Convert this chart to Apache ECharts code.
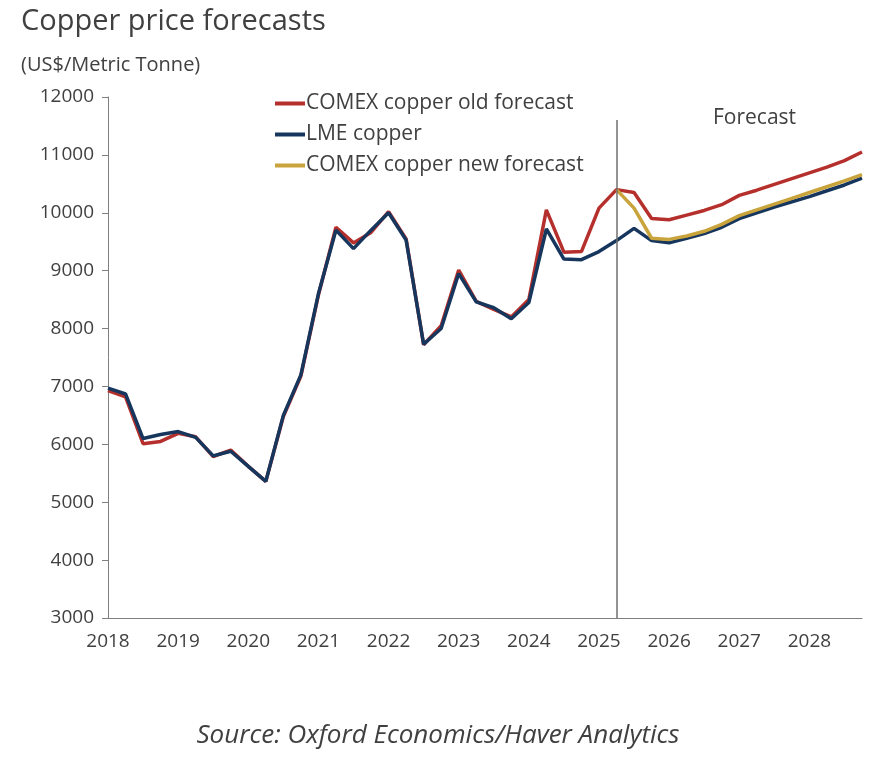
<!DOCTYPE html>
<html><head><meta charset="utf-8">
<script src="https://cdn.jsdelivr.net/npm/echarts@6/dist/echarts.min.js"></script>
<style>html,body{margin:0;padding:0;background:#fff}#chart{width:876px;height:766px}</style>
</head><body><div id="chart"></div>
<script>
// quarterly, 2018Q1 .. 2028Q4
const years = [2018, 2019, 2020, 2021, 2022, 2023, 2024, 2025, 2026, 2027, 2028];
const quarters = [];
years.forEach(y => { for (let q = 1; q <= 4; q++) quarters.push(y + 'Q' + q); });

const lmeCopper = [6970, 6870, 6100, 6170, 6220, 6120, 5800, 5880, 5620, 5360, 6500, 7200,
  8600, 9700, 9380, 9700, 10000, 9530, 7730, 8000, 8950, 8460, 8360, 8170,
  8450, 9720, 9200, 9190, 9330, 9520, 9730, 9520, 9480, 9560, 9640, 9750,
  9900, 10000, 10100, 10190, 10280, 10380, 10480, 10600];
const comexOld = [6930, 6820, 6010, 6050, 6190, 6130, 5790, 5900, 5620, 5360, 6480, 7180,
  8580, 9750, 9480, 9660, 10020, 9550, 7720, 8050, 9010, 8470, 8330, 8200,
  8500, 10050, 9320, 9330, 10080, 10400, 10350, 9900, 9880, 9960, 10040, 10140,
  10300, 10390, 10490, 10590, 10690, 10790, 10900, 11050];
const comexNew = [null, null, null, null, null, null, null, null, null, null, null, null,
  null, null, null, null, null, null, null, null, null, null, null, null,
  null, null, null, null, null, 10400, 10080, 9560, 9540, 9600, 9680, 9800,
  9950, 10050, 10150, 10250, 10350, 10450, 10550, 10660];
const forecastStart = '2025Q2';

const font = '"Open Sans", "Noto Sans", sans-serif';
const txt = '#404040';
let chart = echarts.init(document.getElementById('chart'));
chart.setOption({
  animation: false,
  textStyle: { fontFamily: font },
  title: [
    { text: 'Copper price forecasts', left: 16, top: 2, textStyle: { fontSize: 29, fontWeight: 'normal', color: txt, fontFamily: font } },
    { text: '(US$/Metric Tonne)', left: 16, top: 50, textStyle: { fontSize: 20, fontWeight: 'normal', color: txt, fontFamily: font } },
    { text: 'Forecast', left: 708, top: 103, textStyle: { fontSize: 21, fontWeight: 'normal', color: txt, fontFamily: font } },
    { text: 'Source: Oxford Economics/Haver Analytics', left: 'center', top: 718, textStyle: { fontSize: 26, fontWeight: 'normal', fontStyle: 'italic', color: txt, fontFamily: font } }
  ],
  legend: {
    orient: 'vertical', left: 270, top: 88, itemGap: 10, itemWidth: 30, itemHeight: 4,
    icon: 'rect', textStyle: { fontSize: 21, color: txt, padding: [0, 0, 0, -4] },
    data: ['COMEX copper old forecast', 'LME copper', 'COMEX copper new forecast']
  },
  grid: { left: 108, right: 14, top: 97, bottom: 148, containLabel: false },
  xAxis: {
    type: 'category', data: quarters, boundaryGap: false,
    axisLine: { lineStyle: { color: '#7f7f7f' } },
    axisTick: { show: false },
    axisLabel: { interval: 3, fontSize: 19, color: txt, margin: 14, formatter: v => v.slice(0, 4) }
  },
  yAxis: {
    type: 'value', min: 3000, max: 12000, interval: 1000,
    splitLine: { show: false },
    axisLine: { show: true, lineStyle: { color: '#7f7f7f' } },
    axisTick: { show: true, length: 6, lineStyle: { color: '#7f7f7f' } },
    axisLabel: { fontSize: 19, color: txt, margin: 14, formatter: v => String(v) }
  },
  series: [
    { name: 'COMEX copper old forecast', type: 'line', data: comexOld, symbol: 'none', color: '#B5302C', lineStyle: { width: 3.5 },
      markLine: { silent: true, symbol: 'none', label: { show: false }, lineStyle: { color: '#6f6f6f', width: 1.5, type: 'solid' },
        data: [[{ xAxis: forecastStart, y: 120 }, { xAxis: forecastStart, y: 618 }]] } },
    { name: 'LME copper', type: 'line', data: lmeCopper, symbol: 'none', color: '#17365D', lineStyle: { width: 3.5 } },
    { name: 'COMEX copper new forecast', type: 'line', data: comexNew, symbol: 'none', color: '#C9A33B', lineStyle: { width: 3.5 } }
  ]
});
</script></body></html>
